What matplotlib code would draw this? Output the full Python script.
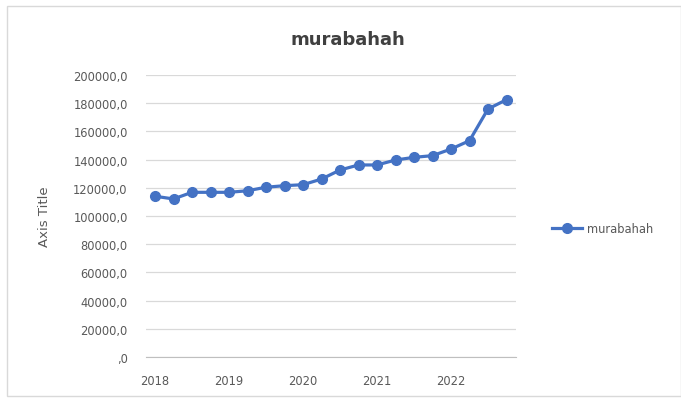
import matplotlib
matplotlib.use("Agg")
import matplotlib.pyplot as plt
from matplotlib.ticker import FuncFormatter, FixedLocator
from matplotlib.patches import Rectangle

periods = list(range(20))
year_labels = ["2018", "2019", "2020", "2021", "2022"]
murabahah = [114000, 112100, 116800, 116800, 116800, 117900, 120400, 121500,
             122200, 126200, 132600, 136200, 136200, 139700, 141600, 142800,
             147500, 153400, 175900, 182500]

blue = "#4472C4"
gray_text = "#595959"

fig = plt.figure(figsize=(6.81, 4.02), dpi=100)
fig.patches.append(Rectangle((7/681, 5/402), 1 - 7/681, 1 - 12/402, transform=fig.transFigure,
                             fill=False, edgecolor="#D9D9D9", linewidth=1.0))

ax = fig.add_axes([145.75/681, 1 - 358/402, 370/681, 282/402])
ax.plot(periods, murabahah, color=blue, linewidth=2.3, marker="o", markersize=7,
        markerfacecolor=blue, markeredgecolor=blue, label="murabahah")
ax.set_xlim(-0.5, 19.5)
ax.set_ylim(0, 200000)
ax.yaxis.set_major_locator(FixedLocator(range(0, 200001, 20000)))

def yfmt(v, pos):
    return ",0" if v == 0 else f"{int(v)},0"

ax.yaxis.set_major_formatter(FuncFormatter(yfmt))
ax.set_xticks([0, 4, 8, 12, 16])
ax.set_xticklabels(year_labels)
ax.grid(axis="y", color="#D9D9D9", linewidth=0.9)
ax.set_axisbelow(True)
for s in ["top", "right", "left"]:
    ax.spines[s].set_visible(False)
ax.spines["bottom"].set_color("#BFBFBF")
ax.tick_params(axis="both", length=0, colors=gray_text, labelsize=8.3)
ax.tick_params(axis="y", pad=13)
ax.tick_params(axis="x", pad=12)
ax.set_ylabel("Axis Title", color=gray_text, fontsize=9.5)
ax.yaxis.set_label_coords(-0.257, 0.5)

fig.text(348/681, 1 - 40/402, "murabahah", ha="center", va="center",
         fontsize=13, fontweight="bold", color="#404040")

leg = ax.legend(loc="center left", bbox_to_anchor=(1.07, 0.457), frameon=False,
                fontsize=8.3, handlelength=2.6, labelcolor=gray_text, handletextpad=0.4)

fig.savefig("out.png", dpi=100, facecolor="white")
